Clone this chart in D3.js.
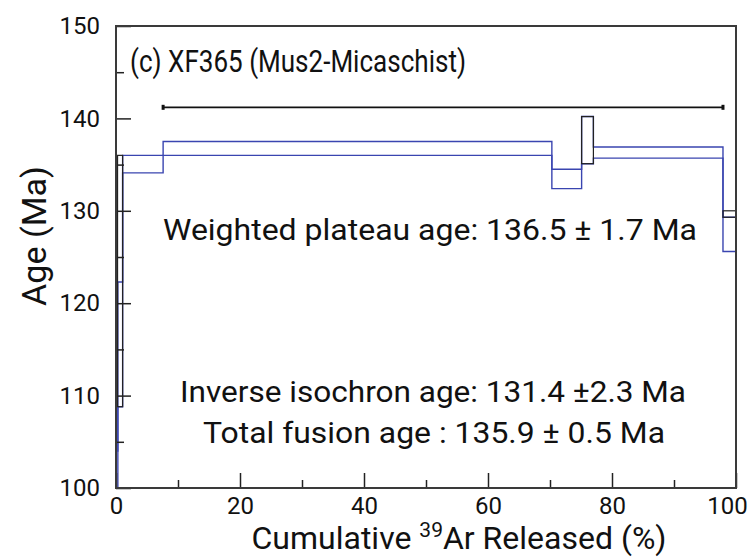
<!DOCTYPE html>
<html>
<head>
<meta charset="utf-8">
<script src="https://cdn.jsdelivr.net/npm/d3@7"></script>
<style>
  body { margin: 0; background: #fff; }
  text { font-family: Roboto, "Open Sans", sans-serif; fill: #111; }
</style>
</head>
<body>
<div id="chart"></div>
<script>
// step boundaries (cumulative 39Ar %), and upper/lower age bounds (Ma) per step
var stepEdges = [0, 0.3, 1.07, 7.6, 70.3, 75.1, 77.0, 97.9, 100];
var ageHigh = [104.0, 122.3, 136.0, 137.5, 134.5, 140.2, 136.9, 129.3];
var ageLow = [90.0, 108.8, 134.1, 136.0, 132.4, 135.1, 135.7, 125.6];

// steps outlined in black
var blackFrom = [0.25, 75.1, 97.9];
var blackTo = [1.07, 77.0, 100];
var blackHigh = [136.0, 140.2, 130.0];
var blackLow = [108.8, 135.1, 129.3];

// plateau bar
var plateauFrom = 7.6, plateauTo = 97.9, plateauAge = 141.2;

var xMajor = [0, 20, 40, 60, 80, 100];
var xMinor = [10, 30, 50, 70, 90];
var yMajor = [100, 110, 120, 130, 140, 150];
var yMinor = [105, 115, 125, 135, 145];

var width = 748, height = 558;
var margin = {top: 26, right: 12, bottom: 70, left: 116};

var svg = d3.select("#chart").append("svg")
  .attr("width", width)
  .attr("height", height);

var x = d3.scaleLinear().domain([0, 100]).range([margin.left, width - margin.right]);
var y = d3.scaleLinear().domain([100, 150]).range([height - margin.bottom, margin.top]);

svg.append("clipPath").attr("id", "plot")
  .append("rect")
  .attr("x", x(0)).attr("y", y(150))
  .attr("width", x(100) - x(0)).attr("height", y(100) - y(150));

var blue = "#3a45b0";

function envelope(vals) {
  var pts = vals.map(function(v, i) { return [stepEdges[i], v]; });
  pts.push([stepEdges[stepEdges.length - 1], vals[vals.length - 1]]);
  return pts;
}

var line = d3.line()
  .x(function(d) { return x(d[0]); })
  .y(function(d) { return y(d[1]); })
  .curve(d3.curveStepAfter);

var plot = svg.append("g").attr("clip-path", "url(#plot)");

[ageHigh, ageLow].forEach(function(vals) {
  plot.append("path")
    .attr("d", line(envelope(vals)))
    .attr("fill", "none")
    .attr("stroke", blue)
    .attr("stroke-width", 1.4);
});

blackFrom.forEach(function(f, i) {
  plot.append("rect")
    .attr("x", x(f))
    .attr("y", y(blackHigh[i]))
    .attr("width", x(blackTo[i]) - x(f))
    .attr("height", y(blackLow[i]) - y(blackHigh[i]))
    .attr("fill", "none")
    .attr("stroke", "#222")
    .attr("stroke-width", 1.2);
});

// plateau bar with end caps
svg.append("line")
  .attr("x1", x(plateauFrom)).attr("x2", x(plateauTo))
  .attr("y1", y(plateauAge)).attr("y2", y(plateauAge))
  .attr("stroke", "#111").attr("stroke-width", 1.8);
[plateauFrom, plateauTo].forEach(function(p) {
  svg.append("rect")
    .attr("x", x(p) - 1.5).attr("y", y(plateauAge) - 2.5)
    .attr("width", 3).attr("height", 5)
    .attr("fill", "#111");
});

// axes (ticks point inward)
function styleAxis(g) {
  g.select(".domain").remove();
  g.selectAll(".tick line").attr("stroke", "#222").attr("stroke-width", 1.5);
  g.selectAll(".tick text").attr("fill", "#111").style("font-size", "24px");
}

var xAxis = svg.append("g")
  .attr("transform", "translate(0," + y(100) + ")")
  .call(d3.axisBottom(x).tickValues(xMajor).tickSize(-15).tickPadding(9).tickFormat(d3.format("d")))
  .call(styleAxis);
xAxis.selectAll(".tick text")
  .attr("dy", "0.71em")
  .attr("dx", function(d) { return d === 100 ? -9 : 0; });

svg.append("g")
  .attr("transform", "translate(0," + y(100) + ")")
  .call(d3.axisBottom(x).tickValues(xMinor).tickSize(-8).tickFormat(""))
  .call(styleAxis);

svg.append("g")
  .attr("transform", "translate(" + x(0) + ",0)")
  .call(d3.axisLeft(y).tickValues(yMajor).tickSize(-15).tickPadding(16).tickFormat(d3.format("d")))
  .call(styleAxis);

svg.append("g")
  .attr("transform", "translate(" + x(0) + ",0)")
  .call(d3.axisLeft(y).tickValues(yMinor).tickSize(-8).tickFormat(""))
  .call(styleAxis);

// frame
svg.append("rect")
  .attr("x", x(0)).attr("y", y(150))
  .attr("width", x(100) - x(0)).attr("height", y(100) - y(150))
  .attr("fill", "none")
  .attr("stroke", "#3a3a3a")
  .attr("stroke-width", 2);

// labels
svg.append("text")
  .attr("x", 130).attr("y", 72)
  .attr("textLength", 336).attr("lengthAdjust", "spacingAndGlyphs")
  .style("font-size", "31px")
  .text("(c) XF365 (Mus2-Micaschist)");

var notes = [
  {t: "Weighted plateau age: 136.5 \u00b1 1.7 Ma", x: 163, w: 534, y: 240},
  {t: "Inverse isochron age: 131.4 \u00b12.3 Ma", x: 180, w: 506, y: 402},
  {t: "Total fusion age : 135.9 \u00b1 0.5 Ma", x: 203, w: 462, y: 443}
];
notes.forEach(function(n) {
  svg.append("text")
    .attr("x", n.x).attr("y", n.y)
    .attr("textLength", n.w).attr("lengthAdjust", "spacingAndGlyphs")
    .style("font-size", "30px")
    .text(n.t);
});

var xTitle = svg.append("text")
  .attr("x", 459).attr("y", 549)
  .attr("text-anchor", "middle")
  .style("font-size", "32px");
xTitle.append("tspan").text("Cumulative ");
xTitle.append("tspan").attr("dy", -12).style("font-size", "21px").text("39");
xTitle.append("tspan").attr("dy", 12).text("Ar Released (%)");

svg.append("text")
  .attr("transform", "translate(46,236) rotate(-90)")
  .attr("text-anchor", "middle")
  .attr("textLength", 140).attr("lengthAdjust", "spacingAndGlyphs")
  .style("font-size", "33px")
  .text("Age (Ma)");
</script>
</body>
</html>
